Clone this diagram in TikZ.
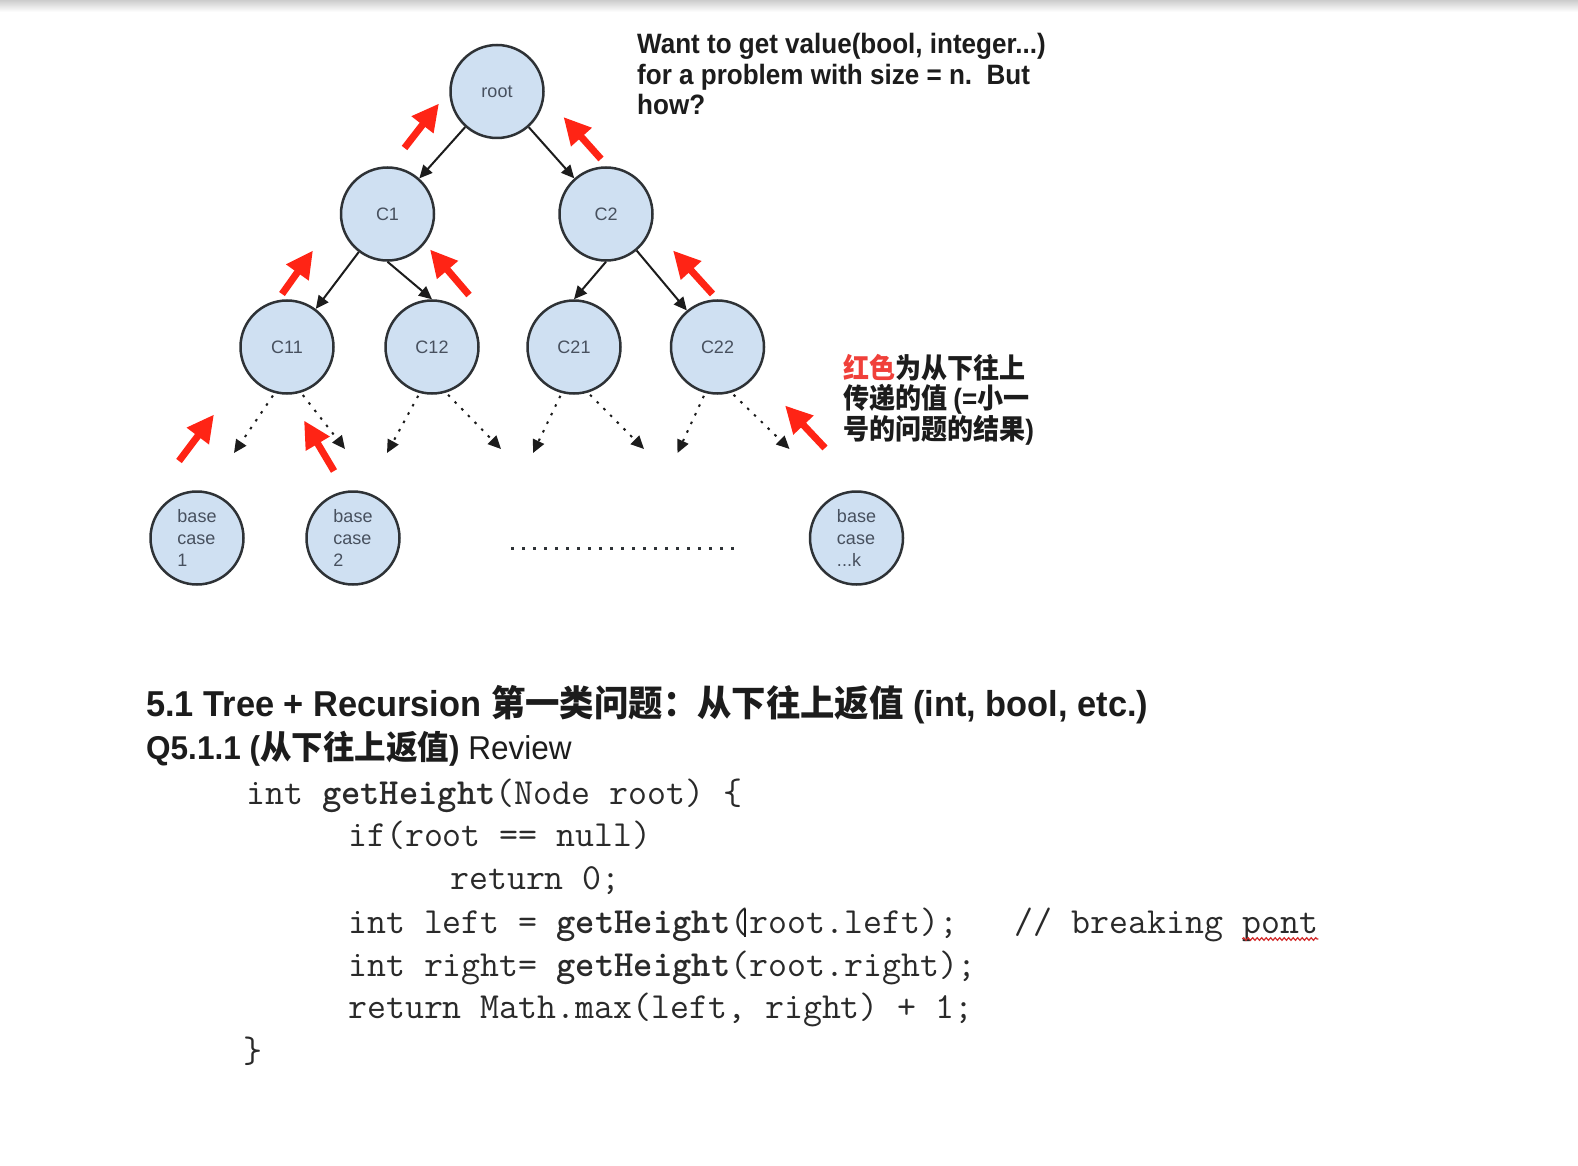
\documentclass[tikz,border=0pt]{standalone}
\usepackage{fontspec}
\setmainfont{Liberation Sans}
\newfontfamily\sansfont[FakeStretch=0.93]{Liberation Sans}
\newfontfamily\headfont[FakeStretch=0.955]{Liberation Sans}
\newfontfamily\cjkfont[FakeStretch=0.93]{Noto Sans CJK SC}
\newfontfamily\headcjk[FakeStretch=0.955]{Noto Sans CJK SC}
\usetikzlibrary{arrows.meta, calc, decorations.pathmorphing}
\definecolor{nodefill}{HTML}{CFE0F2}
\definecolor{nodeedge}{HTML}{2E3236}
\definecolor{nodetext}{HTML}{47505E}
\definecolor{upred}{HTML}{FF2415}
\definecolor{notered}{HTML}{F0403A}
\definecolor{squigred}{HTML}{D22A2A}
\definecolor{ink}{HTML}{1C1C1C}
\definecolor{codeink}{HTML}{2A2A2A}

\begin{document}
\begin{tikzpicture}[x=1pt,y=-1pt]
  \tikzstyle{tn}=[circle, draw=nodeedge, line width=2.5pt, fill=nodefill,
    minimum size=93pt, inner sep=0pt, text=nodetext,
    font=\fontsize{18}{22}\selectfont]
  \tikzstyle{down}=[-{Triangle[length=13pt,width=12pt]}, line width=2pt, draw=ink]
  \tikzstyle{dotdown}=[down, dash pattern=on 2.5pt off 7pt, shorten <=3pt]
  \tikzstyle{redup}=[-{Triangle[length=27pt,width=26pt]}, line width=7pt, draw=upred]
  \tikzstyle{txt}=[inner sep=0pt, anchor=base west, text=ink]
  \tikzstyle{code}=[txt, text=codeink, font=\ttfamily\fontsize{36.8}{42}\selectfont]

  \fill[white] (0,0) rectangle (1578,1166);
  \shade[top color=black!20, bottom color=white] (0,0) rectangle (1578,12);
  \useasboundingbox (0,0) rectangle (1578,1166);

  \node[tn] (root) at (497,91.5) {root};
  \node[tn] (c1)   at (387.5,214) {C1};
  \node[tn] (c2)   at (606,214)   {C2};
  \node[tn] (c11)  at (287,347)   {C11};
  \node[tn] (c12)  at (432,347)   {C12};
  \node[tn] (c21)  at (574,347)   {C21};
  \node[tn] (c22)  at (717.5,347) {C22};
  \node[tn, align=left] (base1) at (197,538)   {base\\case\\1};
  \node[tn, align=left] (base2) at (353,538)   {base\\case\\2};
  \node[tn, align=left] (basek) at (856.5,538) {base\\case\\...k};

  \draw[down] (root) -- (c1);
  \draw[down] (root) -- (c2);
  \draw[down] (c1) -- (c11);
  \draw[down] (c1.south) -- (c12.north);
  \draw[down] (c2.south) -- (c21.north);
  \draw[down] (c2) -- (c22);

  \foreach \n/\lx/\rx in {c11/-53/58, c12/-45/69, c21/-41/70, c22/-40/72} {
    \coordinate (\n-l) at ($(\n)+(\lx,106)$);
    \coordinate (\n-r) at ($(\n)+(\rx,102)$);
    \draw[dotdown] (\n.255) -- (\n-l);
    \draw[dotdown] (\n.287) -- (\n-r);
  }

  \coordinate (dl) at (511,548.5);
  \coordinate (dr) at (740,548.5);
  \draw[draw=nodeedge, line width=2.5pt, dash pattern=on 2.5pt off 8.5pt] (dl) -- (dr);

  \foreach \i/\ax/\ay/\bx/\by in {1/404.5/148/439/103.5, 2/601/159/563.5/117,
      3/282/294/313/250.5, 4/469/295/430/249.5, 5/712.5/294/673/250.5,
      6/179/461/214/414.5, 7/334/471/304/420.5, 8/825/448/785/405.5} {
    \coordinate (up\i-s) at (\ax,\ay);
    \coordinate (up\i-e) at (\bx,\by);
    \draw[redup] (up\i-s) -- (up\i-e);
  }

  \node[txt, font=\sansfont\bfseries\fontsize{28}{30}\selectfont] (want1) at (637,53.5)
    {Want to get value(bool, integer...)};
  \node[txt, font=\sansfont\bfseries\fontsize{28}{30}\selectfont] (want2) at (637,84.5)
    {for a problem with size = n.\ \ But};
  \node[txt, font=\sansfont\bfseries\fontsize{28}{30}\selectfont] (want3) at (637,115)
    {how?};

  \node[txt, font=\cjkfont\bfseries\fontsize{28}{30}\selectfont] (note1) at (843,378)
    {\textcolor{notered}{红色}为从下往上};
  \node[txt, font=\cjkfont\bfseries\fontsize{28}{30}\selectfont] (note2) at (843,408.5)
    {传递的值 {\sansfont (=}小一};
  \node[txt, font=\cjkfont\bfseries\fontsize{28}{30}\selectfont] (note3) at (843,439)
    {号的问题的结果{\sansfont )}};

  \node[txt, font=\headfont\bfseries\fontsize{36}{40}\selectfont] (head) at (146,716.5)
    {5.1 Tree + Recursion {\headcjk 第一类问题：从下往上返值} (int, bool, etc.)};
  \node[txt, font=\headfont\bfseries\fontsize{33}{36}\selectfont] (qline) at (146,759)
    {Q5.1.1 ({\headcjk 从下往上返值}) {\mdseries Review}};

  \node[code] (l1) at (246,804)    {int \textbf{getHeight}(Node root) \{};
  \node[code] (l2) at (348,846.5)  {if(root == null)};
  \node[code] (l3) at (450,889.5)  {return 0;};
  \node[code] (l4) at (348,933)    {int left = \textbf{getHeight}(root.left);\ \ \ // breaking pont};
  \node[code] (l5) at (348,976)    {int right= \textbf{getHeight}(root.right);};
  \node[code] (l6) at (348,1018.5) {return Math.max(left, right) + 1;};
  \node[code] (l7) at (243,1062)   {\}};

  \draw[squigred, line width=1.2pt, decorate,
    decoration={snake, amplitude=1.3pt, segment length=4.5pt}]
    ($(l4.base east)+(-76,6)$) -- ($(l4.base east)+(0,6)$);
  \draw[ink, line width=1.6pt] (745,909) -- (745,937);
\end{tikzpicture}
\end{document}
